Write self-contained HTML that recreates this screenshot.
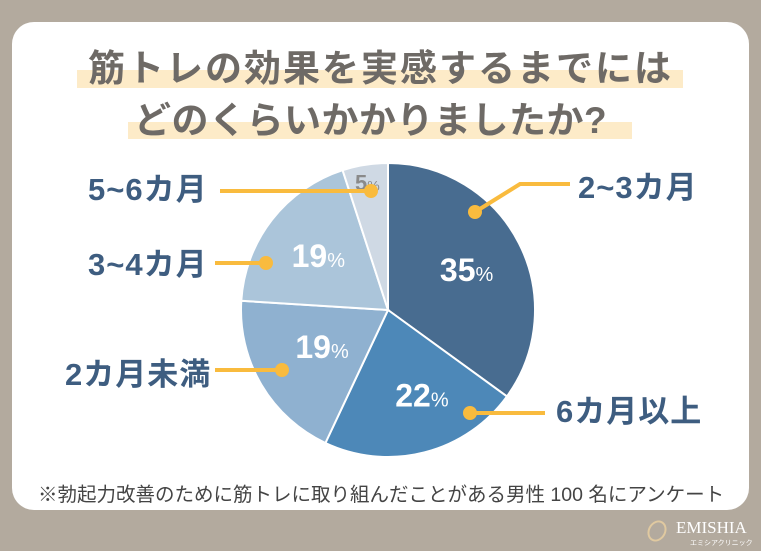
<!DOCTYPE html>
<html><head><meta charset="utf-8"><style>
body{margin:0;width:761px;height:551px;background:#b3aa9e;overflow:hidden;font-family:"Liberation Sans","Noto Sans CJK JP",sans-serif}
#card{position:absolute;left:12px;top:22px;width:737px;height:488px;background:#fff;border-radius:22px}
.band{position:absolute;background:#fdebc8}
.t{position:absolute;color:#6e6a66;font-weight:bold;font-size:37px;white-space:nowrap;line-height:1}
.lab{position:absolute;color:#3e5d80;font-weight:bold;font-size:31px;white-space:nowrap;line-height:1;letter-spacing:1px}
</style></head><body>
<div id="card"></div>
<div class="band" style="left:77px;top:70px;width:606px;height:18px"></div>
<div class="band" style="left:128px;top:122px;width:504px;height:17px"></div>
<div class="t" style="left:88px;top:50px;letter-spacing:2px">筋トレの効果を実感するまでには</div>
<div class="t" style="left:134px;top:102px;letter-spacing:0.5px">どのくらいかかりましたか?</div>
<svg id="pie" width="761" height="551" style="position:absolute;left:0;top:0"></svg>
<div class="lab" style="left:578px;top:172px">2~3カ月</div>
<div class="lab" style="left:556px;top:396px">6カ月以上</div>
<div class="lab" style="left:88px;top:174px">5~6カ月</div>
<div class="lab" style="left:88px;top:249px">3~4カ月</div>
<div class="lab" style="left:65px;top:359px">2カ月未満</div>
<div style="position:absolute;left:38px;top:478px;font-size:19.5px;color:#444;white-space:nowrap">※勃起力改善のために筋トレに取り組んだことがある男性 100 名にアンケート</div>
<div style="position:absolute;left:648px;top:520px;width:14px;height:18px;border:2px solid #e0c9a0;border-radius:50%;transform:rotate(30deg)"></div>
<div style="position:absolute;left:676px;top:518px;font-family:'Liberation Serif',serif;font-size:17px;color:#fff">EMISHIA</div>
<div style="position:absolute;left:690px;top:538px;font-size:7px;color:#fff;font-family:'Noto Sans CJK JP',sans-serif">エミシアクリニック</div>
<script>
const categories=["2~3カ月","6カ月以上","2カ月未満","3~4カ月","5~6カ月"];
const values=[35,22,19,19,5];
const valueLabels=["35","22","19","19","5"];
const colors=["#486c90","#4d88b8","#8fb1d0","#abc5da","#cfd9e4"];
const dots=[[475,212,[[520,184],[570,184]]],[470,413,[[545,413]]],[282,370,[[215,370]]],[266,263,[[215,263]]],[371,191,[[220,191]]]];
const svg=document.getElementById('pie');const NS='http://www.w3.org/2000/svg';
const cx=388,cy=310,r=147;
const total=values.reduce((a,b)=>a+b,0);
let a0=-Math.PI/2;
values.forEach((v,i)=>{
 const a1=a0+v/total*2*Math.PI;
 const p=document.createElementNS(NS,'path');
 const x0=cx+r*Math.cos(a0),y0=cy+r*Math.sin(a0),x1=cx+r*Math.cos(a1),y1=cy+r*Math.sin(a1);
 p.setAttribute('d',`M${cx},${cy}L${x0},${y0}A${r},${r} 0 ${a1-a0>Math.PI?1:0} 1 ${x1},${y1}Z`);
 p.setAttribute('fill',colors[i]);p.setAttribute('stroke','#fff');p.setAttribute('stroke-width','2');
 
 
 svg.appendChild(p);
 const am=(a0+a1)/2,rr=v<10?r*0.9:r*0.6;
 let lx=cx+rr*Math.cos(am),ly=cy+rr*Math.sin(am);
 if(i===1){lx+=12;} if(i===2){lx+=10;ly-=8;}
 const t=document.createElementNS(NS,'text');
 t.setAttribute('x',lx);t.setAttribute('y',ly+11);
 t.setAttribute('text-anchor','middle');t.setAttribute('font-size',v<10?'22':'32');t.setAttribute('font-weight','bold');
 t.setAttribute('fill',v<10?'#8a8a8a':'#fff');t.setAttribute('font-family','Liberation Sans, sans-serif');
 t.innerHTML=valueLabels[i]+'<tspan font-size="'+(v<10?14:20)+'" font-weight="normal">%</tspan>';
 
 
 svg.appendChild(t);
 a0=a1;
});
dots.forEach((d,i)=>{
 const pl=document.createElementNS(NS,'polyline');
 pl.setAttribute('points',[[d[0],d[1]],...d[2]].map(q=>q.join(',')).join(' '));
 pl.setAttribute('fill','none');pl.setAttribute('stroke','#f9bb3e');pl.setAttribute('stroke-width','4');
 
 
 svg.appendChild(pl);
 const c=document.createElementNS(NS,'circle');
 c.setAttribute('cx',d[0]);c.setAttribute('cy',d[1]);c.setAttribute('r','7');c.setAttribute('fill','#f9bb3e');
 
 
 svg.appendChild(c);
});
</script>
</body></html>
